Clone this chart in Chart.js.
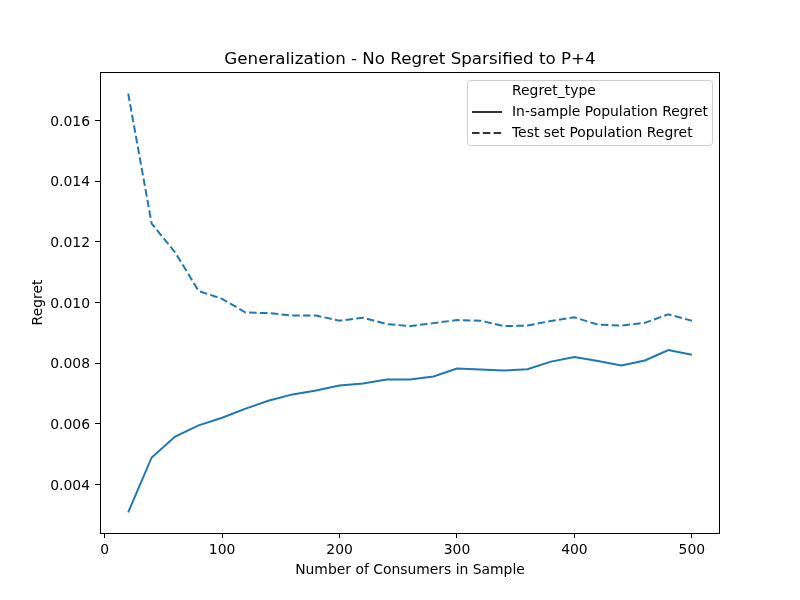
<!DOCTYPE html>
<html>
<head>
<meta charset="utf-8">
<script src="https://cdn.jsdelivr.net/npm/chart.js@4/dist/chart.umd.min.js"></script>
<style>
  html, body { margin: 0; padding: 0; background: #fff; }
  #wrap { width: 800px; height: 600px; }
</style>
</head>
<body>
<div id="wrap"><canvas id="chart" width="800" height="600"></canvas></div>
<script>
// Values
const consumers = [20, 40, 60, 80, 100, 120, 140, 160, 180, 200, 220, 240, 260,
                   280, 300, 320, 340, 360, 380, 400, 420, 440, 460, 480, 500];
const inSampleRegret = [0.00308, 0.00489, 0.00558, 0.00595, 0.00620, 0.00650, 0.00677,
                        0.00697, 0.00710, 0.00726, 0.00733, 0.00746, 0.00746, 0.00756,
                        0.00782, 0.00779, 0.00776, 0.00780, 0.00805, 0.00820, 0.00807,
                        0.00792, 0.00809, 0.00843, 0.00828];
const testSetRegret = [0.01689, 0.01260, 0.01165, 0.01038, 0.01012, 0.00967, 0.00965,
                       0.00957, 0.00957, 0.00940, 0.00950, 0.00929, 0.00922, 0.00932,
                       0.00942, 0.00940, 0.00922, 0.00924, 0.00939, 0.00951, 0.00927,
                       0.00924, 0.00933, 0.00961, 0.00940];
const xTickValues = [0, 100, 200, 300, 400, 500];
const yTickValues = [0.004, 0.006, 0.008, 0.010, 0.012, 0.014, 0.016];

const FONT = "'DejaVu Sans', sans-serif";
const BLUE = '#1f77b4';

// Axes frame, title and an in-axes legend, matplotlib style
const decorPlugin = {
    id: 'decor',
    afterDatasetsDraw(chart) {
        const ctx = chart.ctx;
        const a = chart.chartArea;
        ctx.save();
        ctx.strokeStyle = '#000';
        ctx.lineWidth = 1;
        ctx.strokeRect(Math.round(a.left) + 0.5, Math.round(a.top) + 0.5,
                       Math.round(a.right - a.left) - 1, Math.round(a.bottom - a.top));

        ctx.fillStyle = '#000';
        ctx.font = '16.7px ' + FONT;
        ctx.textAlign = 'center';
        ctx.textBaseline = 'alphabetic';
        ctx.fillText('Generalization - No Regret Sparsified to P+4', (a.left + a.right) / 2, 64);

        // legend box
        const bx = 467.5, by = 80.5, bw = 245, bh = 65, r = 3;
        ctx.beginPath();
        ctx.roundRect(bx, by, bw, bh, r);
        ctx.fillStyle = 'rgba(255,255,255,0.8)';
        ctx.fill();
        ctx.strokeStyle = '#cccccc';
        ctx.stroke();

        ctx.font = '13.9px ' + FONT;
        ctx.textAlign = 'left';
        ctx.textBaseline = 'middle';
        ctx.fillStyle = '#000';
        ctx.fillText('Regret_type', 512, 91);
        const rows = [
            { label: chart.data.datasets[0].label, dash: [], y: 112 },
            { label: chart.data.datasets[1].label, dash: [7.5, 3.3], y: 133 }
        ];
        rows.forEach(row => {
            ctx.beginPath();
            ctx.setLineDash(row.dash);
            ctx.strokeStyle = '#333333';
            ctx.lineWidth = 2;
            ctx.moveTo(472, row.y);
            ctx.lineTo(502, row.y);
            ctx.stroke();
            ctx.setLineDash([]);
            ctx.fillStyle = '#000';
            ctx.fillText(row.label, 512, row.y);
        });
        ctx.restore();
    }
};

const ctx = document.getElementById('chart').getContext('2d');
new Chart(ctx, {
    type: 'line',
    data: {
        datasets: [{
            label: 'In-sample Population Regret',
            data: consumers.map((x, i) => ({ x: x, y: inSampleRegret[i] })),
            borderColor: BLUE,
            borderWidth: 2,
            pointRadius: 0,
            fill: false,
            tension: 0
        }, {
            label: 'Test set Population Regret',
            data: consumers.map((x, i) => ({ x: x, y: testSetRegret[i] })),
            borderColor: BLUE,
            borderWidth: 2,
            borderDash: [7.5, 3.3],
            pointRadius: 0,
            fill: false,
            tension: 0
        }]
    },
    options: {
        responsive: false,
        animation: false,
        layout: { padding: { top: 72, right: 80, left: 0, bottom: 0 } },
        plugins: {
            legend: { display: false },
            title: { display: false },
            tooltip: { enabled: false }
        },
        scales: {
            x: {
                type: 'linear',
                min: -4,
                max: 524,
                afterBuildTicks: scale => { scale.ticks = xTickValues.map(v => ({ value: v })); },
                afterFit: scale => { scale.height = 67; },
                grid: { drawOnChartArea: false, drawTicks: true, tickLength: 5, tickColor: '#000' },
                border: { display: false },
                ticks: {
                    color: '#000',
                    padding: 4,
                    maxRotation: 0,
                    font: { family: FONT, size: 13.9 },
                    callback: v => String(v)
                },
                title: {
                    display: true,
                    text: 'Number of Consumers in Sample',
                    color: '#000',
                    font: { family: FONT, size: 13.9 },
                    padding: { top: 0, bottom: 21 }
                }
            },
            y: {
                type: 'linear',
                min: 0.0024,
                max: 0.0176,
                afterBuildTicks: scale => { scale.ticks = yTickValues.map(v => ({ value: v })); },
                afterFit: scale => { scale.width = 100; },
                grid: { drawOnChartArea: false, drawTicks: true, tickLength: 5, tickColor: '#000' },
                border: { display: false },
                ticks: {
                    color: '#000',
                    padding: 5,
                    labelOffset: 1.5,
                    font: { family: FONT, size: 13.9 },
                    callback: v => v.toFixed(3)
                },
                title: {
                    display: true,
                    text: 'Regret',
                    color: '#000',
                    font: { family: FONT, size: 13.9 },
                    padding: { top: 30, bottom: 0 }
                }
            }
        }
    },
    plugins: [decorPlugin]
});
</script>
</body>
</html>
